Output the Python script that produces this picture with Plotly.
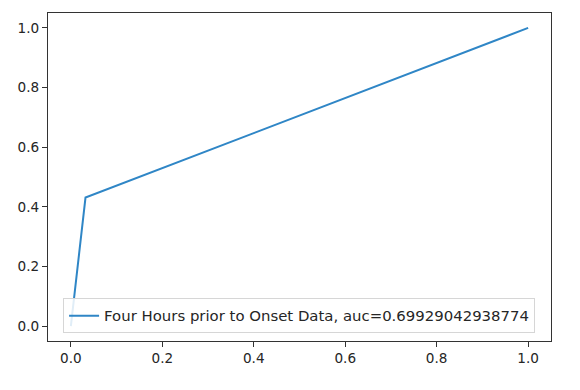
import plotly.graph_objects as go

fpr = [0.0, 0.032, 1.0]
tpr = [0.0, 0.431, 1.0]
label = "Four Hours prior to Onset Data, auc=0.69929042938774"
tick_vals = [0.0, 0.2, 0.4, 0.6, 0.8, 1.0]
tick_text = ["0.0", "0.2", "0.4", "0.6", "0.8", "1.0"]

fig = go.Figure()
fig.add_trace(go.Scatter(x=fpr, y=tpr, mode="lines", name=label,
                         line=dict(color="#2f86c6", width=2)))

axis_common = dict(
    showline=True, linecolor="#333333", linewidth=1.2, mirror=True,
    showgrid=False, zeroline=False, automargin=False,
    ticks="outside", ticklen=5, tickwidth=1, tickcolor="#333333",
    tickvals=tick_vals, ticktext=tick_text,
    tickfont=dict(family="DejaVu Sans", size=13.6, color="#262626"),
)
fig.update_xaxes(range=[-0.05, 1.05], **axis_common)
fig.update_yaxes(range=[-0.05, 1.05], **axis_common)

fig.update_layout(
    width=580, height=390,
    margin=dict(l=40, r=37, t=5, b=57, autoexpand=False),
    paper_bgcolor="white", plot_bgcolor="white",
    showlegend=True,
    legend=dict(x=0.03, y=0.023, xanchor="left", yanchor="bottom",
                bgcolor="rgba(255,255,255,0.85)", bordercolor="#d6d6d6", borderwidth=1,
                font=dict(family="DejaVu Sans", size=14.9, color="#262626"),
                tracegroupgap=0),
)

fig.write_html("out.html")
